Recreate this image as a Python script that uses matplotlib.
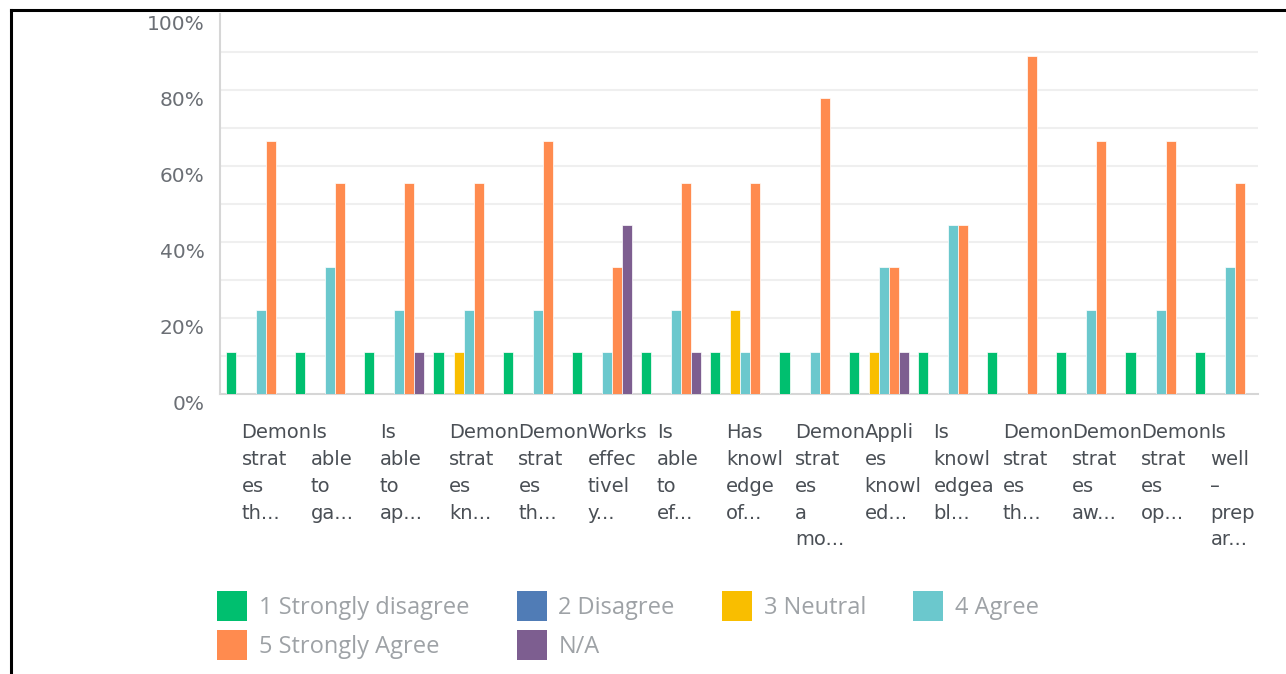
import matplotlib
matplotlib.use('Agg')
import matplotlib.pyplot as plt
import matplotlib.transforms as mtransforms
from matplotlib.lines import Line2D
from matplotlib.patches import Patch
import numpy as np

categories = [
    "Demon\nstrat\nes\nth...",
    "Is\nable\nto\nga...",
    "Is\nable\nto\nap...",
    "Demon\nstrat\nes\nkn...",
    "Demon\nstrat\nes\nth...",
    "Works\neffec\ntivel\ny...",
    "Is\nable\nto\nef...",
    "Has\nknowl\nedge\nof...",
    "Demon\nstrat\nes\na\nmo...",
    "Appli\nes\nknowl\ned...",
    "Is\nknowl\nedgea\nbl...",
    "Demon\nstrat\nes\nth...",
    "Demon\nstrat\nes\naw...",
    "Demon\nstrat\nes\nop...",
    "Is\nwell\n\u2013\nprep\nar...",
]

series_names = ["1 Strongly disagree", "2 Disagree", "3 Neutral",
                "4 Agree", "5 Strongly Agree", "N/A"]
colors = ["#00bf6f", "#507cb6", "#f9be00", "#6bc8cd", "#ff8b4f", "#7d5e90"]

strongly_disagree = [11.11, 11.11, 11.11, 11.11, 11.11, 11.11, 11.11, 11.11,
                     11.11, 11.11, 11.11, 11.11, 11.11, 11.11, 11.11]
disagree = [0, 0, 0, 0, 0, 0, 0, 0, 0, 0, 0, 0, 0, 0, 0]
neutral = [0, 0, 0, 11.11, 0, 0, 0, 22.22, 0, 11.11, 0, 0, 0, 0, 0]
agree = [22.22, 33.33, 22.22, 22.22, 22.22, 11.11, 22.22, 11.11, 11.11,
         33.33, 44.44, 0, 22.22, 22.22, 33.33]
strongly_agree = [66.67, 55.56, 55.56, 55.56, 66.67, 33.33, 55.56, 55.56,
                  77.78, 33.33, 44.44, 88.89, 66.67, 66.67, 55.56]
not_applicable = [0, 0, 11.11, 0, 0, 44.44, 11.11, 0, 0, 11.11, 0, 0, 0, 0, 0]

values = [strongly_disagree, disagree, neutral, agree, strongly_agree,
          not_applicable]

W, H = 1286, 674
fig = plt.figure(figsize=(W / 100, H / 100), dpi=100)
ax = fig.add_axes([220 / W, (H - 394) / H, (1258 - 220) / W, (394 - 14) / H])

x = np.arange(len(categories))
bw = 0.145
handles = []
for i, (vals, col) in enumerate(zip(values, colors)):
    offs = (i - 2.5) * bw + 0.02
    ax.bar(x + offs, vals, width=bw, color=col, edgecolor='white',
           linewidth=0.5, zorder=3)
    handles.append(Patch(facecolor=col, edgecolor='none'))

ax.set_xlim(-0.5, len(categories) - 0.5)
ax.set_ylim(0, 100)

# gridlines every 10%
for g in range(10, 100, 10):
    ax.axhline(g, color='#efefef', linewidth=1.5, zorder=1)

for s in ['top', 'right']:
    ax.spines[s].set_visible(False)
ax.spines['left'].set_color('#d6d6d6')
ax.spines['bottom'].set_color('#d6d6d6')
ax.spines['left'].set_linewidth(1.5)
ax.spines['bottom'].set_linewidth(1.5)

ax.set_yticks(range(0, 101, 20))
ax.set_yticklabels([f"{v}%" for v in range(0, 101, 20)], fontsize=14.5,
                   color='#6b6f75')
ax.tick_params(axis='y', length=0, pad=11)
shift_y = mtransforms.ScaledTranslation(0, -0.08, fig.dpi_scale_trans)
for lab in ax.get_yticklabels():
    lab.set_transform(lab.get_transform() + shift_y)

ax.set_xticks(x)
ax.set_xticklabels(categories, fontsize=14, color='#4a4f55', ha='left',
                   linespacing=1.52)
ax.tick_params(axis='x', length=0, pad=21)
shift_x = mtransforms.ScaledTranslation(-0.13, 0, fig.dpi_scale_trans)
for lab in ax.get_xticklabels():
    lab.set_transform(lab.get_transform() + shift_x)

# legend, ordered so that rows read left to right
order = [0, 4, 1, 5, 2, 3]
leg = fig.legend([handles[k] for k in order], [series_names[k] for k in order],
                 ncol=4, loc='upper left',
                 bbox_to_anchor=(217 / W, 1 - 591 / H), frameon=False,
                 borderpad=0, borderaxespad=0,
                 prop={'family': 'Open Sans', 'size': 17},
                 handlelength=1.27, handleheight=1.55, handletextpad=0.5,
                 labelspacing=0.4, columnspacing=2.0)
for t in leg.get_texts():
    t.set_color('#9ea2a6')

# black border on top and left
fig.add_artist(Line2D([11 / W, 1], [1 - 10 / H, 1 - 10 / H], color='black',
                      linewidth=2.2, transform=fig.transFigure))
fig.add_artist(Line2D([11 / W, 11 / W], [0, 1 - 10 / H], color='black',
                      linewidth=2.2, transform=fig.transFigure))

fig.savefig('out.png', dpi=100)
